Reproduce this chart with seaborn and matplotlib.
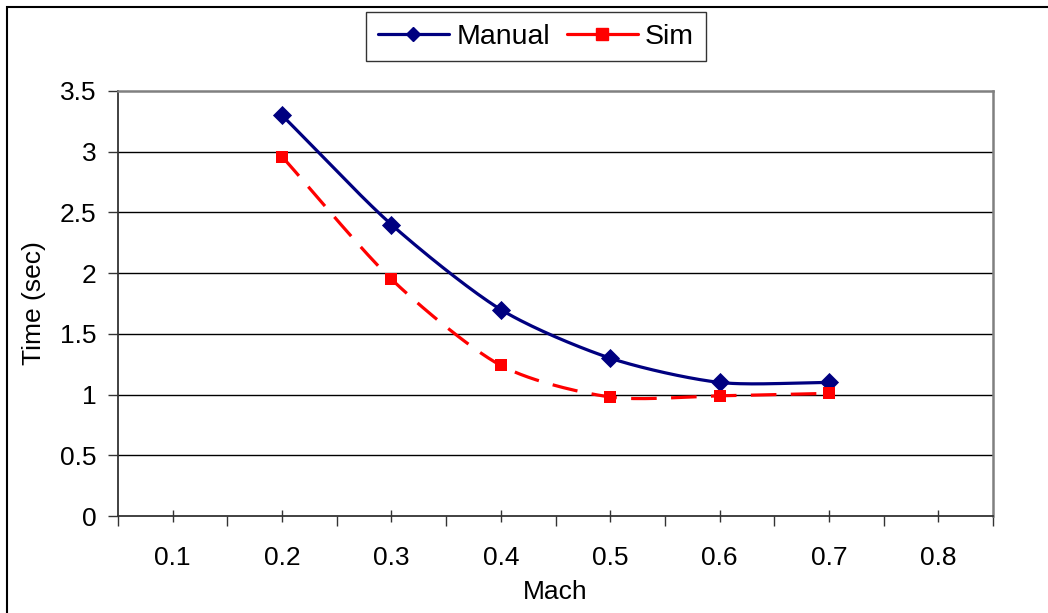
import numpy as np
import pandas as pd
import matplotlib
matplotlib.use("Agg")
import matplotlib.pyplot as plt
import seaborn as sns
from matplotlib.lines import Line2D
from matplotlib.patches import Rectangle

# ---- data ----
mach = [0.2, 0.3, 0.4, 0.5, 0.6, 0.7]
manual = [3.3, 2.4, 1.7, 1.3, 1.1, 1.1]
sim = [2.96, 1.95, 1.24, 0.98, 0.99, 1.01]
x_tick_labels = ["0.1", "0.2", "0.3", "0.4", "0.5", "0.6", "0.7", "0.8"]
y_ticks = [0, 0.5, 1, 1.5, 2, 2.5, 3, 3.5]
y_tick_labels = ["0", "0.5", "1", "1.5", "2", "2.5", "3", "3.5"]


def smooth(xs, ys, n=30, xscale=10.0, k=0.4):
    """Cardinal-spline smoothing (like Excel's smoothed line) for drawing only."""
    P = np.column_stack([np.asarray(xs) * xscale, np.asarray(ys)])
    P = np.vstack([P[0] - (P[1] - P[0]), P, P[-1] + (P[-1] - P[-2])])
    out = []
    for i in range(1, len(P) - 2):
        p0, p1, p2, p3 = P[i - 1], P[i], P[i + 1], P[i + 2]
        m1 = k * (p2 - p0)
        m2 = k * (p3 - p1)
        t = np.linspace(0, 1, n, endpoint=(i == len(P) - 3))[:, None]
        h00 = 2 * t ** 3 - 3 * t ** 2 + 1
        h10 = t ** 3 - 2 * t ** 2 + t
        h01 = -2 * t ** 3 + 3 * t ** 2
        h11 = t ** 3 - t ** 2
        out.append(h00 * p1 + h10 * m1 + h01 * p2 + h11 * m2)
    out = np.vstack(out)
    return out[:, 0] / xscale, out[:, 1]


sns.set_theme(style="white")
plt.rcParams["font.family"] = ["Liberation Sans", "DejaVu Sans"]
plt.rcParams["text.color"] = "black"
plt.rcParams["axes.labelcolor"] = "black"
plt.rcParams["xtick.color"] = "black"
plt.rcParams["ytick.color"] = "black"

fig = plt.figure(figsize=(10.48, 6.13), dpi=100)
ax = fig.add_axes([118 / 1048, 1 - 516 / 613, (993 - 118) / 1048, (516 - 91) / 613])

navy = "#000080"
red = "#FF0000"

mx, my = smooth(mach, manual)
sx, sy = smooth(mach, sim)
df_m = pd.DataFrame({"Mach": mx, "Time": my})
df_s = pd.DataFrame({"Mach": sx, "Time": sy})

sns.lineplot(data=df_m, x="Mach", y="Time", ax=ax, color=navy, linewidth=2.3,
             sort=False, estimator=None, zorder=3)
sns.lineplot(data=df_s, x="Mach", y="Time", ax=ax, color=red, linewidth=2.3,
             sort=False, estimator=None, zorder=3)
ax.lines[-1].set_linestyle((0, (8.0, 4.5)))

pts_m = pd.DataFrame({"Mach": mach, "Time": manual})
pts_s = pd.DataFrame({"Mach": mach, "Time": sim})
sns.scatterplot(data=pts_m, x="Mach", y="Time", ax=ax, marker="D", s=95,
                color=navy, edgecolor=navy, linewidth=0, zorder=4)
sns.scatterplot(data=pts_s, x="Mach", y="Time", ax=ax, marker="s", s=85,
                color=red, edgecolor=red, linewidth=0, zorder=4)

# axes
ax.set_xlim(0.05, 0.85)
ax.set_ylim(0, 3.5)
ax.set_xticks([0.1, 0.2, 0.3, 0.4, 0.5, 0.6, 0.7, 0.8])
ax.set_xticklabels(x_tick_labels)
ax.set_xticks(np.arange(0.05, 0.86, 0.1), minor=True)
ax.set_yticks(y_ticks)
ax.set_yticklabels(y_tick_labels)

for yv in y_ticks[1:-1]:
    ax.axhline(yv, color="#000000", linewidth=1.0, zorder=1)

ax.tick_params(axis="x", which="major", direction="inout", length=9, width=1,
               color="#333333", labelsize=19, pad=17, bottom=True)
ax.tick_params(axis="x", which="minor", direction="out", length=7, width=1,
               color="#333333", bottom=True)
ax.tick_params(axis="y", which="major", direction="out", length=7.5, width=1,
               color="#333333", labelsize=19, pad=8, left=True)

ax.set_xlabel("Mach", fontsize=19, labelpad=7)
ax.set_ylabel("Time (sec)", fontsize=19, labelpad=10)

for side in ["left", "bottom"]:
    ax.spines[side].set_color("#333333")
    ax.spines[side].set_linewidth(1.3)
for side in ["top", "right"]:
    ax.spines[side].set_color("#808080")
    ax.spines[side].set_linewidth(1.8)

# legend
handles = [
    Line2D([], [], color=navy, linewidth=2.3, marker="D", markersize=7),
    Line2D([], [], color=red, linewidth=2.3, marker="s", markersize=8),
]
leg = fig.legend(handles, ["Manual", "Sim"], loc="center",
                 bbox_to_anchor=(536 / 1048, 1 - 36.5 / 613), ncol=2,
                 fontsize=20.5, frameon=True, fancybox=False, handlelength=2.5,
                 handletextpad=0.25, columnspacing=0.6, borderpad=0.4,
                 borderaxespad=0)
leg.get_frame().set_edgecolor("#000000")
leg.get_frame().set_linewidth(1.0)

# outer chart border (left/top visible)
fig.patches.append(Rectangle((7 / 1048, -0.05), 1.2, 1 - 7 / 613 + 0.05,
                             transform=fig.transFigure, fill=False,
                             edgecolor="#000000", linewidth=1.5))

fig.savefig("out.png", dpi=100)
